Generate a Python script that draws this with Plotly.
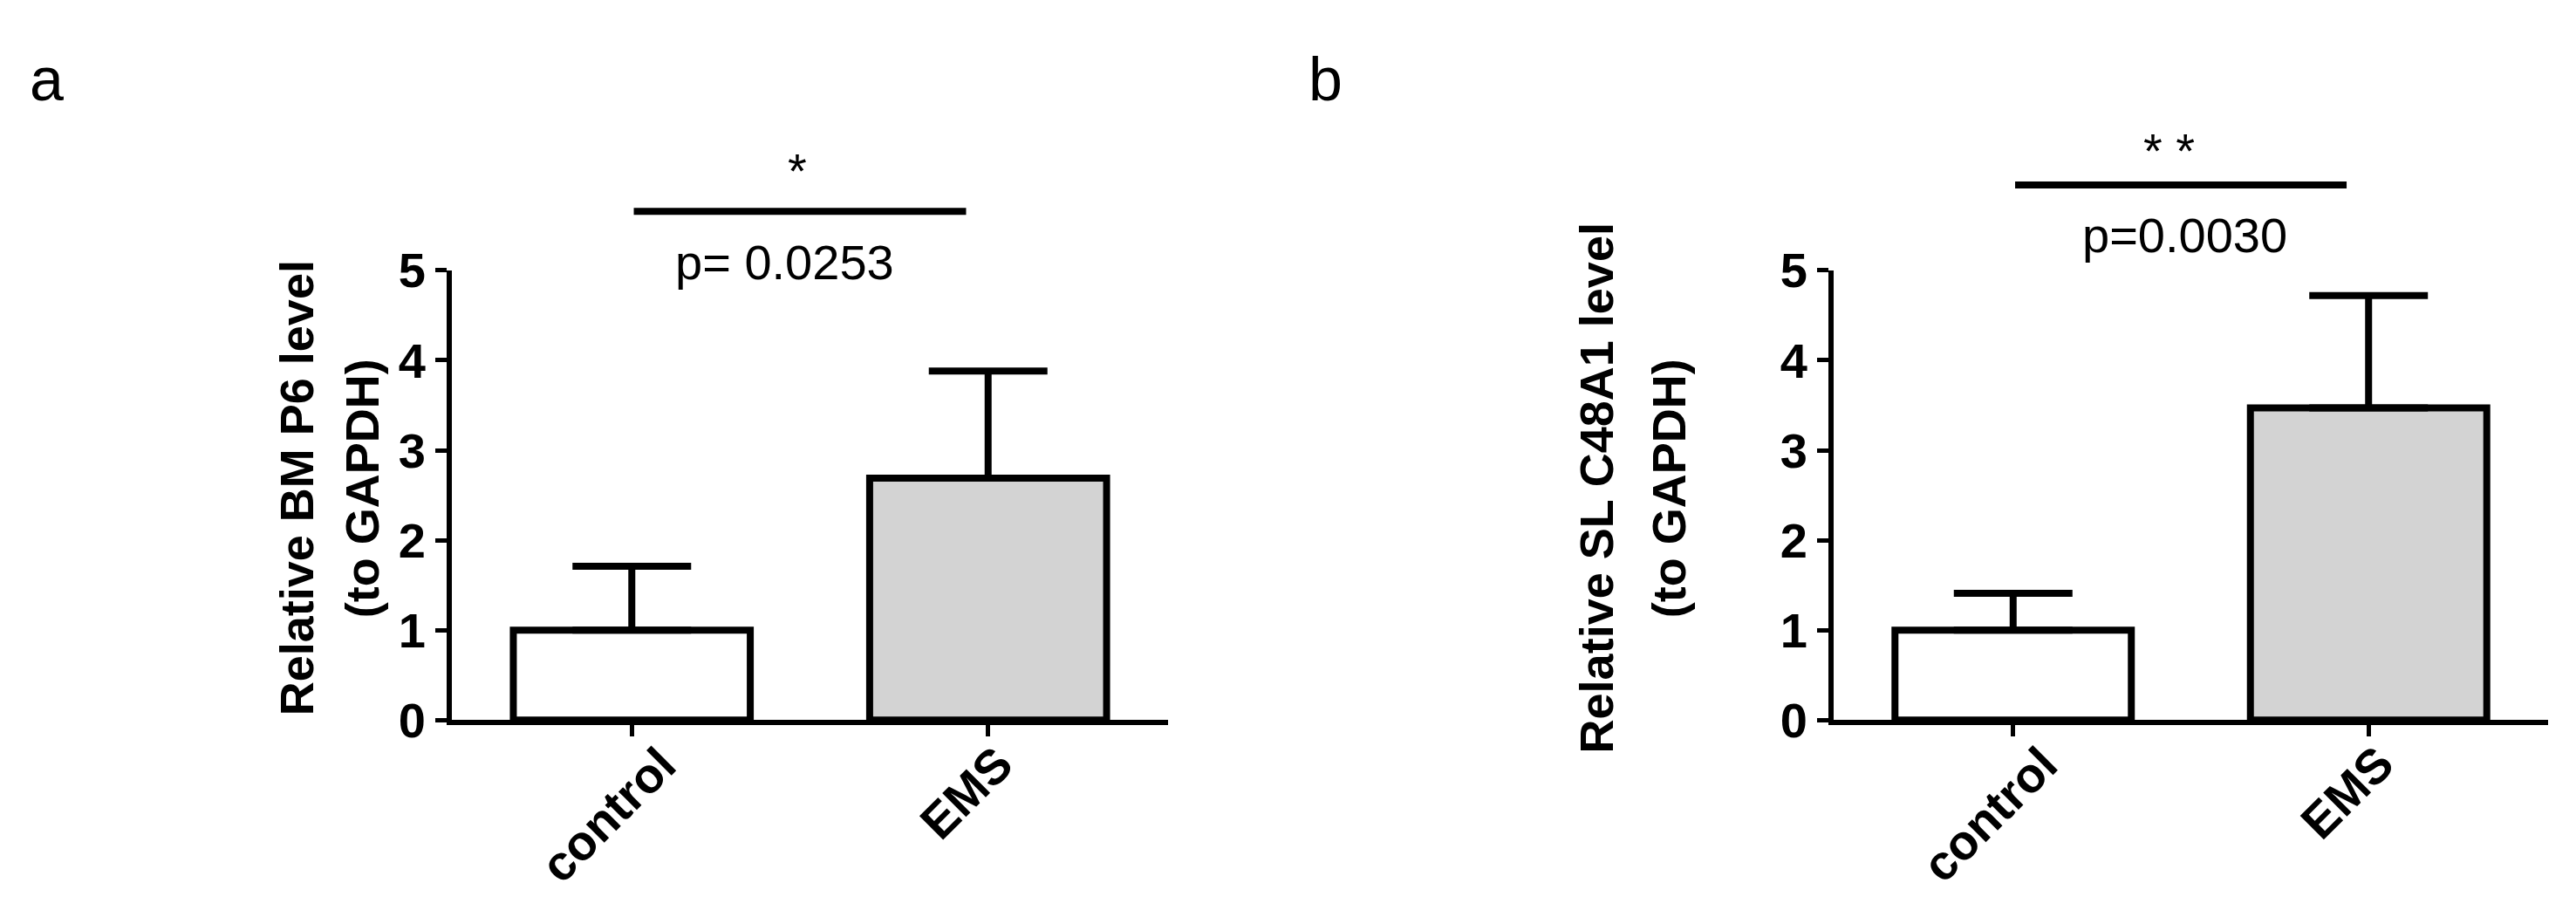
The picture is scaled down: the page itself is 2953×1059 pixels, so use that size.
import plotly.graph_objects as go

categories = ["control", "EMS"]
bmp6_mean = [1.0, 2.69]
bmp6_sem = [0.71, 1.19]
slc_mean = [1.0, 3.47]
slc_sem = [0.41, 1.25]
bar_colors = ["#ffffff", "#d3d3d3"]
y_ticks = [0, 1, 2, 3, 4, 5]
panel_letters = ["a", "b"]
ylabels_a = ["Relative BM P6 level", "(to GAPDH)"]
ylabels_b = ["Relative SL C48A1 level", "(to GAPDH)"]
pvals = ["p= 0.0253", "p=0.0030"]
stars = ["*", "* *"]

W, H = 2953, 1059
FONT = "Liberation Sans, Arial, sans-serif"

def px_x(p):
    return p / W

def px_y(p):
    return 1 - p / H

fig = go.Figure()

for i, (mean, err, xa, ya) in enumerate([(bmp6_mean, bmp6_sem, "x", "y"),
                                          (slc_mean, slc_sem, "x2", "y2")]):
    fig.add_trace(go.Bar(
        x=categories, y=mean, xaxis=xa, yaxis=ya,
        width=0.665,
        marker=dict(color=bar_colors, line=dict(color="black", width=8)),
        error_y=dict(type="data", array=err, arrayminus=[0, 0], symmetric=False,
                     color="black", thickness=8, width=68),
        showlegend=False,
    ))

axis_common = dict(showline=True, linecolor="black", linewidth=6, ticks="outside",
                   ticklen=13, tickwidth=5, tickcolor="black", showgrid=False,
                   zeroline=False, mirror=False)
ytickfont = dict(family=FONT, size=56, color="black", weight="bold")

ydom = [px_y(836), px_y(288)]
fig.update_layout(
    width=W, height=H, margin=dict(l=0, r=0, t=0, b=0),
    paper_bgcolor="white", plot_bgcolor="white",
    xaxis=dict(domain=[px_x(510), px_x(1331)], anchor="y", range=[-0.505, 1.505],
               showticklabels=False, **axis_common),
    yaxis=dict(domain=ydom, anchor="x", range=[0, 5], tickvals=y_ticks,
               tickfont=ytickfont, **axis_common),
    xaxis2=dict(domain=[px_x(2094), px_x(2913)], anchor="y2", range=[-0.505, 1.505],
                showticklabels=False, **axis_common),
    yaxis2=dict(domain=ydom, anchor="x2", range=[0, 5], tickvals=y_ticks,
                tickfont=ytickfont, **axis_common),
)

shapes = []
annotations = []
sig = [("x", "y", 1.1314, 0.465, 1.018, 0.482, 1.2226, [-0.2168, -0.1255], ylabels_a),
       ("x2", "y2", 1.1898, 0.492, 1.078, 0.470, 1.266, [-0.332, -0.2308], ylabels_b)]
xlab_y = [-0.210, -0.162]
xlab_shift = [-27, -25]
for k, (xa, ya, ly, px, py, sx, sy, labx, labs) in enumerate(sig):
    shapes.append(dict(type="line", xref=f"{xa} domain", yref=f"{ya} domain",
                       x0=0.254, x1=0.718, y0=ly, y1=ly,
                       line=dict(color="black", width=8)))
    annotations.append(dict(xref=f"{xa} domain", yref=f"{ya} domain", x=px, y=py,
                            text=pvals[k], showarrow=False, xanchor="center", yanchor="middle",
                            font=dict(family=FONT, size=56, color="black")))
    annotations.append(dict(xref=f"{xa} domain", yref=f"{ya} domain", x=sx, y=sy,
                            text=stars[k], showarrow=False, xanchor="center", yanchor="middle",
                            font=dict(family=FONT, size=56, color="black")))
    for j, t in enumerate(labs):
        annotations.append(dict(xref=f"{xa} domain", yref=f"{ya} domain", x=labx[j], y=0.516,
                                text=t, textangle=-90, showarrow=False,
                                xanchor="center", yanchor="middle",
                                font=dict(family=FONT, size=54, color="black", weight="bold")))
    # rotated category labels
    for c, cat in enumerate(categories):
        annotations.append(dict(xref=xa, yref=f"{ya} domain", x=c, y=xlab_y[c],
                                xshift=xlab_shift[c], text=cat, textangle=-45, showarrow=False,
                                xanchor="center", yanchor="middle",
                                font=dict(family=FONT, size=56, color="black", weight="bold")))

annotations.append(dict(xref="paper", yref="paper", x=px_x(24), y=px_y(55), text=panel_letters[0],
                        showarrow=False, xanchor="left", yanchor="middle",
                        font=dict(family=FONT, size=70, color="black")))
annotations.append(dict(xref="paper", yref="paper", x=px_x(1490), y=px_y(55), text=panel_letters[1],
                        showarrow=False, xanchor="left", yanchor="middle",
                        font=dict(family=FONT, size=70, color="black")))

fig.update_layout(shapes=shapes, annotations=annotations)
fig.write_html("out.html")
